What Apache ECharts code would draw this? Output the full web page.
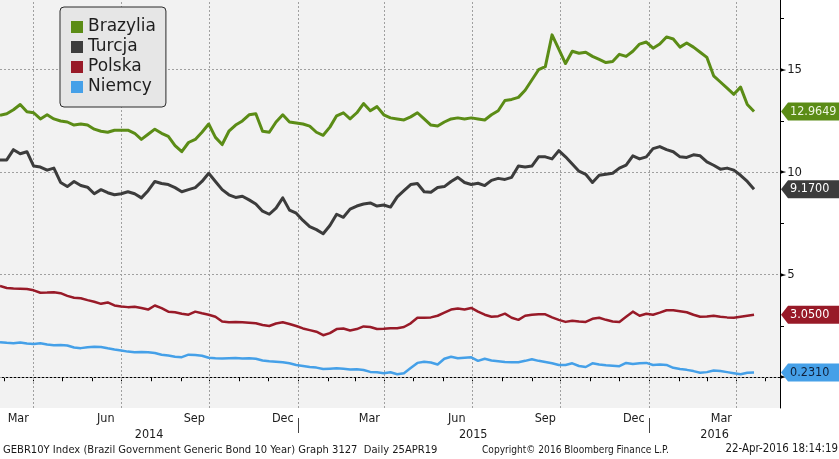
<!DOCTYPE html>
<html>
<head>
<meta charset="utf-8">
<script src="https://cdn.jsdelivr.net/npm/echarts@6/dist/echarts.min.js"></script>
<style>
  html, body { margin: 0; padding: 0; background: #fff; }
  #main { width: 839px; height: 459px; }
</style>
</head>
<body>
<div id="main"></div>
<script>
(function () {
    const FONT = '"DejaVu Sans Condensed", "DejaVu Sans", sans-serif'

    // weekly closes, 10Y government bond yields (%)
    const dates = [
        '2014-02-25', '2014-03-04', '2014-03-11', '2014-03-18', '2014-03-25', '2014-04-01', '2014-04-08', '2014-04-15', '2014-04-22', '2014-04-29',
        '2014-05-06', '2014-05-13', '2014-05-20', '2014-05-27', '2014-06-03', '2014-06-10', '2014-06-17', '2014-06-24', '2014-07-01', '2014-07-08',
        '2014-07-15', '2014-07-22', '2014-07-29', '2014-08-05', '2014-08-12', '2014-08-19', '2014-08-26', '2014-09-02', '2014-09-09', '2014-09-16',
        '2014-09-23', '2014-09-30', '2014-10-07', '2014-10-14', '2014-10-21', '2014-10-28', '2014-11-04', '2014-11-11', '2014-11-18', '2014-11-25',
        '2014-12-02', '2014-12-09', '2014-12-16', '2014-12-23', '2014-12-30', '2015-01-06', '2015-01-13', '2015-01-20', '2015-01-27', '2015-02-03',
        '2015-02-10', '2015-02-17', '2015-02-24', '2015-03-03', '2015-03-10', '2015-03-17', '2015-03-24', '2015-03-31', '2015-04-07', '2015-04-14',
        '2015-04-21', '2015-04-28', '2015-05-05', '2015-05-12', '2015-05-19', '2015-05-26', '2015-06-02', '2015-06-09', '2015-06-16', '2015-06-23',
        '2015-06-30', '2015-07-07', '2015-07-14', '2015-07-21', '2015-07-28', '2015-08-04', '2015-08-11', '2015-08-18', '2015-08-25', '2015-09-01',
        '2015-09-08', '2015-09-15', '2015-09-22', '2015-09-29', '2015-10-06', '2015-10-13', '2015-10-20', '2015-10-27', '2015-11-03', '2015-11-10',
        '2015-11-17', '2015-11-24', '2015-12-01', '2015-12-08', '2015-12-15', '2015-12-22', '2015-12-29', '2016-01-05', '2016-01-12', '2016-01-19',
        '2016-01-26', '2016-02-02', '2016-02-09', '2016-02-16', '2016-02-23', '2016-03-01', '2016-03-08', '2016-03-15', '2016-03-22', '2016-03-29',
        '2016-04-05', '2016-04-12', '2016-04-19'
    ]
    const brazil = [
        12.78, 12.85, 13.05, 13.3, 12.95, 12.9, 12.6, 12.8, 12.6, 12.5,
        12.45, 12.3, 12.35, 12.3, 12.1, 12.0, 11.95, 12.05, 12.05, 12.05,
        11.9, 11.6, 11.85, 12.1, 11.9, 11.75, 11.3, 11.0, 11.45, 11.6,
        11.95, 12.35, 11.7, 11.35, 12.0, 12.3, 12.5, 12.8, 12.85, 12.0,
        11.95, 12.45, 12.8, 12.45, 12.4, 12.35, 12.25, 11.95, 11.8, 12.2,
        12.75, 12.9, 12.6, 12.9, 13.35, 13.0, 13.2, 12.8, 12.65, 12.6,
        12.55, 12.7, 12.9, 12.6, 12.3, 12.25, 12.45, 12.6, 12.65, 12.6,
        12.65, 12.6, 12.55, 12.8, 13.0, 13.5, 13.55, 13.65, 14.0, 14.5,
        15.0, 15.15, 16.7, 16.0, 15.3, 15.9, 15.8, 15.85, 15.65, 15.5,
        15.35, 15.4, 15.75, 15.65, 15.9, 16.25, 16.35, 16.05, 16.25, 16.6,
        16.5, 16.1, 16.3, 16.1, 15.85, 15.6, 14.7, 14.4, 14.1, 13.8,
        14.15, 13.3, 12.9649
    ]
    const turkey = [
        10.6, 10.6, 11.1, 10.9, 11.0, 10.3, 10.25, 10.1, 10.2, 9.5,
        9.3, 9.55, 9.35, 9.27, 8.95, 9.15, 9.0, 8.9, 8.95, 9.05,
        8.95, 8.75, 9.1, 9.55, 9.45, 9.4, 9.25, 9.05, 9.15, 9.25,
        9.55, 9.95, 9.55, 9.15, 8.9, 8.77, 8.83, 8.65, 8.45, 8.1,
        7.95, 8.25, 8.75, 8.15, 8.0, 7.65, 7.35, 7.2, 7.0, 7.4,
        7.95, 7.8, 8.2, 8.35, 8.45, 8.5, 8.35, 8.4, 8.3, 8.8,
        9.1, 9.4, 9.45, 9.05, 9.02, 9.25, 9.3, 9.55, 9.75, 9.5,
        9.4, 9.46, 9.35, 9.6, 9.7, 9.65, 9.75, 10.3, 10.25, 10.3,
        10.75, 10.75, 10.65, 11.05, 10.75, 10.4, 10.05, 9.9, 9.5, 9.85,
        9.9, 9.95, 10.2, 10.35, 10.8, 10.65, 10.75, 11.15, 11.25, 11.1,
        11.0, 10.75, 10.72, 10.85, 10.8, 10.5, 10.34, 10.15, 10.2, 10.1,
        9.85, 9.55, 9.17
    ]
    const poland = [
        4.45, 4.35, 4.33, 4.32, 4.3, 4.24, 4.12, 4.13, 4.15, 4.1,
        3.97, 3.88, 3.85, 3.76, 3.68, 3.58, 3.65, 3.5, 3.45, 3.42,
        3.44, 3.38, 3.3, 3.5, 3.37, 3.2, 3.17, 3.1, 3.05, 3.2,
        3.12, 3.05, 2.95, 2.72, 2.68, 2.7, 2.68, 2.66, 2.63, 2.55,
        2.5, 2.62, 2.68, 2.6, 2.5, 2.38, 2.3, 2.22, 2.05, 2.15,
        2.35, 2.38, 2.28, 2.35, 2.48, 2.45, 2.35, 2.36, 2.39, 2.39,
        2.45, 2.63, 2.9, 2.9, 2.92, 3.0, 3.15, 3.3, 3.35, 3.3,
        3.38, 3.2, 3.05, 2.95, 2.98, 3.1, 2.9, 2.8, 3.0, 3.05,
        3.07, 3.07, 2.92, 2.8, 2.7, 2.76, 2.72, 2.7, 2.85, 2.9,
        2.8, 2.72, 2.7, 2.95, 3.2, 3.0, 3.1, 3.05, 3.15, 3.27,
        3.27, 3.22, 3.17, 3.05, 2.95, 2.96, 3.0, 2.95, 2.92, 2.9,
        2.95, 3.0, 3.05
    ]
    const germany = [
        1.71, 1.68, 1.66, 1.7, 1.65, 1.62, 1.66, 1.6, 1.56, 1.57,
        1.55, 1.45, 1.42, 1.46, 1.49, 1.48, 1.41, 1.35, 1.3, 1.25,
        1.22, 1.23, 1.22, 1.18, 1.1, 1.06, 1.0, 0.98, 1.1, 1.08,
        1.05, 0.95, 0.93, 0.92, 0.93, 0.94, 0.92, 0.93, 0.9, 0.82,
        0.78, 0.76, 0.73, 0.68, 0.6, 0.55, 0.5, 0.47, 0.4, 0.42,
        0.44, 0.42, 0.38, 0.39, 0.35, 0.26, 0.24, 0.2, 0.24, 0.15,
        0.2, 0.45, 0.7, 0.76, 0.72, 0.62, 0.9, 1.0, 0.93, 0.95,
        0.97, 0.8, 0.9, 0.82, 0.78, 0.74, 0.73, 0.73, 0.8, 0.88,
        0.8, 0.74, 0.68, 0.6, 0.6, 0.68, 0.55, 0.5, 0.68, 0.62,
        0.58, 0.56, 0.54, 0.7, 0.65, 0.68, 0.7, 0.6, 0.62, 0.6,
        0.46, 0.4, 0.36, 0.3, 0.22, 0.25, 0.33, 0.3, 0.25, 0.2,
        0.15, 0.22, 0.231
    ]

    // axis ticks / labels
    const monthTicks = [
        '2014-03-01', '2014-04-01', '2014-05-01', '2014-06-01', '2014-07-01', '2014-08-01', '2014-09-01', '2014-10-01', '2014-11-01', '2014-12-01',
        '2015-01-01', '2015-02-01', '2015-03-01', '2015-04-01', '2015-05-01', '2015-06-01', '2015-07-01', '2015-08-01', '2015-09-01', '2015-10-01',
        '2015-11-01', '2015-12-01', '2016-01-01', '2016-02-01', '2016-03-01', '2016-04-01', '2016-05-01'
    ]
    const monthLabelDates = ['2014-03-16', '2014-06-15', '2014-09-15', '2014-12-16', '2015-03-16', '2015-06-15', '2015-09-15', '2015-12-16', '2016-03-16']
    const monthNames = ['Jan', 'Feb', 'Mar', 'Apr', 'May', 'Jun', 'Jul', 'Aug', 'Sep', 'Oct', 'Nov', 'Dec']
    const quarterLines = ['2014-04-01', '2014-07-01', '2014-10-01', '2015-01-01', '2015-04-01', '2015-07-01', '2015-10-01', '2016-01-01', '2016-04-01']
    const yearBreaks = ['2015-01-01', '2016-01-01']
    const yearLabelDates = ['2014-07-30', '2015-07-02', '2016-03-09']
    const yLabels = [0, 5, 10, 15]
    const yMinor = [2.5, 7.5, 12.5, 17.5]
    const xMin = '2014-02-25'
    const xMax = '2016-05-16'

    const seriesList = [
        { name: 'Brazylia', values: brazil, color: '#5b8c16', width: 3, tagText: '#eef5e0' },
        { name: 'Turcja', values: turkey, color: '#3c3c3c', width: 3, tagText: '#ffffff' },
        { name: 'Polska', values: poland, color: '#981a28', width: 2.5, tagText: '#ffffff' },
        { name: 'Niemcy', values: germany, color: '#45a0e8', width: 2.5, tagText: '#10203a' }
    ]

    // dates -> timestamps for the value axis
    const ts = d => new Date(d + 'T00:00:00').getTime()

    let chart = echarts.init(document.getElementById('main'))

    let series = seriesList.map(s => ({
        name: s.name,
        type: 'line',
        symbol: 'none',
        z: 3,
        color: s.color,
        lineStyle: { width: s.width, color: s.color, join: 'round' },
        data: dates.map((d, i) => [ts(d), s.values[i]])
    }))
    // dashed grid lines
    series.push({
        name: 'grid',
        type: 'line',
        data: [],
        z: 1,
        markLine: {
            silent: true,
            z: 1,
            symbol: ['none', 'none'],
            label: { show: false },
            lineStyle: { color: '#a0a0a0', type: [2, 2], width: 1 },
            data: quarterLines.map(d => ({ xAxis: ts(d) })).concat(yLabels.map(v => ({ yAxis: v })))
        }
    })

    let option = {
        backgroundColor: '#ffffff',
        animation: false,
        textStyle: { fontFamily: FONT },
        grid: {
            left: 0, right: 59, top: 0, bottom: 51,
            show: true, backgroundColor: '#f2f2f2', borderWidth: 0
        },
        legend: {
            data: seriesList.map(s => s.name),
            orient: 'vertical',
            left: 60, top: 7,
            padding: [10, 10, 10, 11],
            itemGap: 0,
            itemWidth: 12, itemHeight: 12,
            icon: 'rect',
            backgroundColor: '#e6e6e6',
            borderColor: '#2a2a2a', borderWidth: 1, borderRadius: 4,
            textStyle: { fontSize: 17, color: '#1e1e1e', fontFamily: '"DejaVu Sans", sans-serif', lineHeight: 20 }
        },
        xAxis: [
            {
                type: 'value',
                min: ts(xMin), max: ts(xMax),
                axisLine: { show: true, lineStyle: { color: '#000', width: 1 } },
                axisTick: { show: true, customValues: monthTicks.map(ts), length: 4, lineStyle: { color: '#000' } },
                axisLabel: {
                    customValues: monthLabelDates.map(ts),
                    margin: 4,
                    fontSize: 12.5, color: '#1a1a1a', fontFamily: FONT,
                    formatter: v => monthNames[new Date(v).getMonth()]
                },
                splitLine: { show: false }
            },
            {
                type: 'value',
                position: 'bottom',
                offset: 10,
                min: ts(xMin), max: ts(xMax),
                axisLine: { show: false },
                axisTick: { show: true, customValues: yearBreaks.map(ts), length: 15, lineStyle: { color: '#444' } },
                axisLabel: {
                    customValues: yearLabelDates.map(ts),
                    margin: 10,
                    fontSize: 12.5, color: '#1a1a1a', fontFamily: FONT,
                    formatter: v => String(new Date(v).getFullYear())
                },
                splitLine: { show: false }
            }
        ],
        yAxis: {
            type: 'value',
            position: 'right',
            min: -1.5, max: 18.4,
            axisLine: { show: true, lineStyle: { color: '#000', width: 1 } },
            axisTick: { show: true, customValues: yMinor, length: 4, lineStyle: { color: '#000' } },
            axisLabel: {
                customValues: yLabels,
                margin: 0,
                formatter: v => '{t|►}{n|' + v + '}',
                rich: {
                    t: { fontSize: 8, color: '#000', fontFamily: '"DejaVu Sans", sans-serif' },
                    n: { fontSize: 13, color: '#1a1a1a', fontFamily: FONT, padding: [0, 0, 0, 1] }
                }
            },
            splitLine: { show: false }
        },
        series: series
    }
    chart.setOption(option)

    // last value tags on the right axis (drawn above the axis labels)
    let axisX = chart.convertToPixel({ xAxisIndex: 0 }, ts(xMax))
    let tags = seriesList.map(s => {
        let last = s.values[s.values.length - 1]
        let y = chart.convertToPixel({ yAxisIndex: 0 }, last)
        return {
            type: 'group',
            z: 100,
            children: [
                {
                    type: 'polygon', z: 100,
                    shape: { points: [[axisX + 1, y], [axisX + 8, y - 9], [839, y - 9], [839, y + 9], [axisX + 8, y + 9]] },
                    style: { fill: s.color }
                },
                {
                    type: 'text', z: 101, x: axisX + 10, y: y,
                    style: { text: last.toFixed(4), fill: s.tagText, fontSize: 12.5, fontFamily: FONT, verticalAlign: 'middle' }
                }
            ]
        }
    })
    let footer = [
        { type: 'text', left: 3, top: 445, style: { text: 'GEBR10Y Index (Brazil Government Generic Bond 10 Year) Graph 3127  Daily 25APR19', fill: '#1a1a1a', fontSize: 11.1, fontFamily: FONT } },
        { type: 'text', left: 482, top: 445, style: { text: 'Copyright\u00a9 2016 Bloomberg Finance L.P.', fill: '#1a1a1a', fontSize: 10.1, fontFamily: FONT } },
        { type: 'text', right: 1, top: 444, style: { text: '22-Apr-2016 18:14:19', fill: '#1a1a1a', fontSize: 11.4, fontFamily: FONT } }
    ]
    chart.setOption({ graphic: tags.concat(footer) })

    window.addEventListener('resize', function () {
        chart.resize()
    })
})();
</script>
</body>
</html>
